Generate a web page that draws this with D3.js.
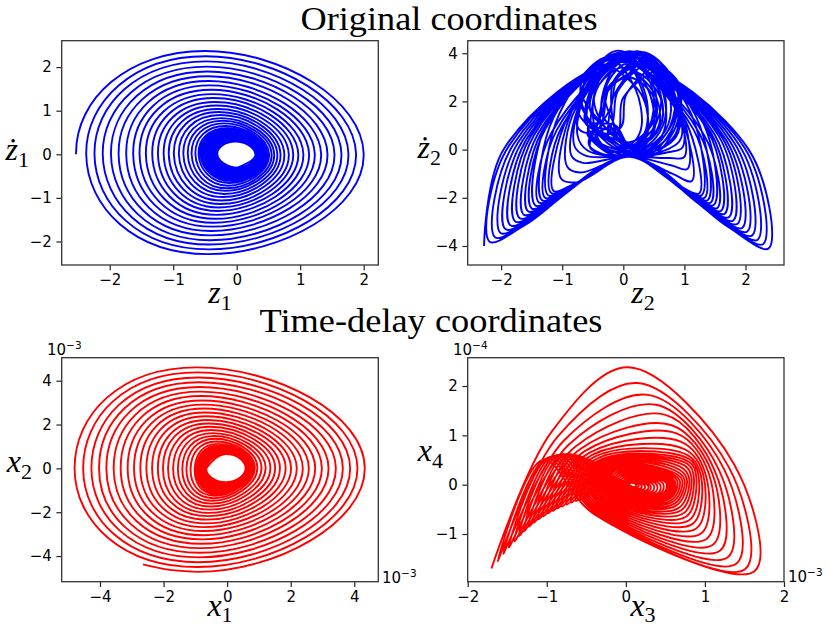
<!DOCTYPE html>
<html><head><meta charset="utf-8">
<script src="https://cdn.jsdelivr.net/npm/d3@7"></script>
<style>body{margin:0;background:#fff}</style></head>
<body><svg id="c" width="830" height="629"></svg>
<script>
// ---------- Panel 1: z1 vs dz1 (spiral; per-turn crossings left, top, right, bottom) ----------
const p1Ghost = [-0.45, -2.40];
const p1L  = [-2.53,-2.37,-2.24,-2.11,-1.98,-1.86,-1.74,-1.63,-1.53,-1.43,-1.33,-1.24,-1.15,-1.07,-0.99,-0.91,-0.84,-0.77,-0.71,-0.65,-0.60,-0.57,-0.54,-0.52,-0.50,-0.48,-0.46,-0.44,-0.42,-0.41,-0.40,-0.39,-0.38,-0.37,-0.36,-0.35,-0.345,-0.34,-0.335,-0.33,-0.325,-0.32,-0.315,-0.31,-0.305];
const p1T  = [2.37,2.25,2.13,2.01,1.90,1.79,1.68,1.58,1.48,1.38,1.29,1.20,1.12,1.04,0.97,0.90,0.83,0.77,0.71,0.65,0.60,0.57,0.54,0.51,0.49,0.47,0.45,0.43,0.41,0.40,0.39,0.38,0.37,0.36,0.35,0.34,0.33,0.325,0.32,0.315,0.31,0.305,0.30,0.295,0.29];
const p1TX = [-0.50,-0.49,-0.48,-0.47,-0.46,-0.45,-0.44,-0.42,-0.40,-0.38,-0.36,-0.34,-0.32,-0.30,-0.28,-0.26,-0.24,-0.22,-0.20,-0.18,-0.16,-0.15,-0.14,-0.13,-0.12,-0.11,-0.10,-0.09,-0.08,-0.07,-0.06,-0.06,-0.05,-0.05,-0.04,-0.04,-0.04,-0.03,-0.03,-0.03,-0.03,-0.02,-0.02,-0.02,-0.02];
const p1R  = [2.00,1.88,1.76,1.65,1.54,1.43,1.33,1.23,1.14,1.05,0.97,0.89,0.82,0.75,0.69,0.64,0.59,0.55,0.51,0.48,0.45,0.43,0.41,0.40,0.39,0.38,0.37,0.36,0.35,0.345,0.34,0.335,0.33,0.325,0.32,0.315,0.31,0.31,0.305,0.305,0.30,0.30,0.30,0.295,0.295];
const p1B  = [-2.29,-2.18,-2.07,-1.97,-1.86,-1.76,-1.66,-1.57,-1.48,-1.39,-1.30,-1.22,-1.14,-1.06,-0.98,-0.91,-0.84,-0.78,-0.72,-0.66,-0.61,-0.58,-0.55,-0.52,-0.50,-0.48,-0.46,-0.44,-0.42,-0.41,-0.40,-0.39,-0.38,-0.37,-0.36,-0.35,-0.34,-0.335,-0.33,-0.325,-0.32,-0.315,-0.31,-0.305,-0.30];
const p1BX = [-0.45,-0.44,-0.43,-0.42,-0.41,-0.40,-0.38,-0.36,-0.34,-0.32,-0.30,-0.28,-0.26,-0.24,-0.22,-0.20,-0.18,-0.16,-0.14,-0.12,-0.10,-0.09,-0.08,-0.07,-0.06,-0.05,-0.04,-0.03,-0.02,-0.01,0,0,0.01,0.01,0.01,0.02,0.02,0.02,0.02,0.02,0.02,0.02,0.02,0.02,0.02];

// ---------- Panel 2: z2 vs dz2 (loops: left corner, upper-left, apex, upper-right, right corner, lower-right, bottom, lower-left) ----------
const p2LX  = [-2.28,-2.19,-2.10,-2.01,-1.93,-1.85,-1.77,-1.70,-1.63,-1.56,-1.50,-1.44,-1.38,-1.33,-1.28,-1.23,-1.18,-1.14,-1.02,-0.92,-0.85,-0.80,-0.75,-0.40,-0.75,-0.55,-0.50,-0.32,-0.74,-0.35,-0.48,-0.62,-0.60,-0.37,-0.54,
               -0.70,-0.10,-0.70,-0.05,-0.30,-0.25,-0.70,-0.20,-0.20,-0.60,-0.20,-0.35];
const p2LY  = [-4.00,-3.82,-3.64,-3.46,-3.30,-3.14,-2.98,-2.84,-2.70,-2.56,-2.44,-2.32,-2.20,-2.10,-2.00,-1.90,-1.80,-1.72,-1.20,-0.70,-0.25,0.15,0.60,1.20,1.60,1.00,1.90,1.40,0.90,1.50,2.00,1.10,1.30,1.70,1.60,
               2.20,0.70,2.40,0.90,2.10,0.60,1.90,1.00,2.30,1.20,1.80,1.50];
const p2ULX = [-1.95,-1.88,-1.80,-1.72,-1.65,-1.58,-1.52,-1.46,-1.39,-1.33,-1.28,-1.23,-1.18,-1.14,-1.09,-1.05,-1.01,-0.90,-0.85,-0.78,-0.72,-0.66,-0.58,-0.27,-0.61,-0.40,-0.39,-0.20,-0.60,-0.25,-0.34,-0.50,-0.44,-0.28,-0.41,
               -0.59,0.00,-0.60,0.05,-0.23,-0.14,-0.58,-0.09,-0.14,-0.49,-0.11,-0.26];
const p2ULY = [0.05,0.13,0.21,0.30,0.37,0.45,0.53,0.61,0.69,0.76,0.84,1.21,0.68,1.34,0.81,1.47,0.93,1.40,1.55,1.70,1.85,2.10,2.51,2.52,2.87,2.68,2.73,2.72,2.66,2.44,3.07,2.53,2.83,2.42,2.84,
               2.94,2.16,3.14,2.30,2.90,2.31,3.03,2.43,2.93,2.74,2.90,2.90];
const p2AX  = [0,0,0,0,0,0,0,0,0,0,0,-0.10,0.15,-0.15,0.20,-0.20,0.25,0.05,-0.15,0.25,-0.10,0.20,0.10,0.40,-0.20,0.30,0.00,0.50,-0.12,0.20,0.37,-0.12,0.23,0.08,0.17,
               -0.35,0.65,-0.20,0.55,0.05,0.40,-0.15,0.45,0.10,0.00,0.25,0.10];
const p2AY  = [3.65,3.64,3.63,3.63,3.63,3.64,3.65,3.67,3.69,3.71,3.74,3.77,3.80,3.83,3.86,3.89,3.92,3.95,3.97,3.99,4.01,4.03,4.08,3.60,3.90,4.05,3.40,3.80,4.10,3.20,3.95,3.70,4.08,3.00,3.85,
               3.55,3.35,3.75,3.45,3.55,3.70,3.95,3.60,3.45,4.00,3.80,4.05];
const p2URX = [2.05,1.98,1.90,1.82,1.75,1.68,1.62,1.56,1.49,1.43,1.38,1.33,1.28,1.24,1.19,1.15,1.11,1.00,0.90,0.95,0.85,0.88,0.78,0.77,0.51,0.80,0.49,0.80,0.56,0.55,0.78,0.50,0.80,0.44,0.65,
               0.29,0.80,0.20,0.85,0.33,0.74,0.38,0.79,0.34,0.39,0.61,0.46];
const p2URY = [0.01,0.09,0.17,0.26,0.33,0.41,0.49,0.57,0.65,0.72,0.80,0.57,1.24,0.70,1.37,0.83,1.49,1.30,1.50,1.60,1.75,1.95,2.47,2.43,2.78,3.04,2.41,2.50,2.98,2.44,2.67,2.94,2.83,2.42,2.84,
               2.31,2.83,2.51,2.98,2.27,2.94,2.62,3.02,2.48,3.06,2.63,2.90];
const p2RX  = [2.38,2.29,2.20,2.11,2.03,1.95,1.87,1.80,1.73,1.66,1.60,1.54,1.48,1.43,1.38,1.33,1.28,1.24,1.12,1.05,1.00,0.97,0.95,0.90,0.65,0.95,0.60,0.92,0.70,0.65,0.92,0.62,0.96,0.53,0.78,
               0.40,0.90,0.30,0.95,0.40,0.85,0.50,0.90,0.40,0.50,0.70,0.55];
const p2RY  = [-4.10,-3.92,-3.74,-3.56,-3.40,-3.24,-3.08,-2.94,-2.80,-2.66,-2.54,-2.42,-2.30,-2.20,-2.10,-2.00,-1.90,-1.82,-1.30,-0.80,-0.30,0.10,0.50,1.00,1.40,1.80,1.20,0.90,1.60,1.50,1.10,2.00,1.30,1.70,1.60,
               0.80,2.20,1.00,2.40,0.70,2.00,1.00,2.30,1.30,1.90,1.20,1.50];
const p2LRX = [1.68,1.62,1.56,1.49,1.44,1.38,1.32,1.28,1.23,1.18,1.14,1.09,1.05,1.02,0.98,0.95,0.91,0.85,0.80,0.78,0.76,0.75,0.74,0.74,0.48,0.76,0.46,0.77,0.52,0.53,0.75,0.47,0.77,0.42,0.62,
               0.26,0.78,0.18,0.83,0.31,0.71,0.35,0.76,0.33,0.36,0.59,0.44];
const p2LRY = [-3.15,-3.02,-2.88,-2.75,-2.63,-2.51,-2.39,-2.28,-2.18,-2.07,-1.98,-1.89,-1.80,-1.73,-1.65,-1.58,-1.50,-1.40,-1.00,-0.65,-0.35,-0.10,0.03,0.28,0.50,0.57,0.54,0.27,0.46,0.72,0.31,0.80,0.35,0.86,0.55,
               0.17,0.76,0.34,0.79,0.31,0.69,0.23,0.89,0.61,0.62,0.41,0.45];
const p2UX  = [0.10,0.10,0.10,0.10,0.10,0.10,0.10,0.10,0.10,0.10,0.10,0.10,0.10,0.10,0.10,0.10,0.10,0.10,0.10,0.10,0.10,0.10,0.10,0.25,-0.05,0.20,0.05,0.30,-0.02,0.15,0.22,0.00,0.18,0.08,0.12,
               -0.15,0.40,-0.20,0.45,0.05,0.30,-0.10,0.35,0.10,-0.05,0.25,0.10];
const p2UY  = [-0.30,-0.30,-0.30,-0.30,-0.30,-0.30,-0.30,-0.30,-0.30,-0.30,-0.30,-0.30,-0.30,-0.30,-0.30,-0.29,-0.29,-0.29,-0.29,-0.28,-0.28,-0.28,-0.28,-0.20,-0.10,-0.25,0.10,-0.15,-0.30,0.20,-0.22,0.00,-0.28,0.30,-0.15,
               -0.25,-0.20,-0.10,-0.28,0.05,-0.18,-0.28,-0.05,0.15,-0.24,-0.12,-0.25];
const p2LLX = [-1.58,-1.52,-1.46,-1.39,-1.34,-1.28,-1.22,-1.18,-1.13,-1.08,-1.04,-0.99,-0.95,-0.92,-0.88,-0.85,-0.81,-0.75,-0.70,-0.66,-0.62,-0.58,-0.54,-0.24,-0.58,-0.36,-0.36,-0.17,-0.56,-0.23,-0.31,-0.47,-0.41,-0.26,-0.38,
               -0.56,0.03,-0.58,0.08,-0.21,-0.11,-0.55,-0.06,-0.13,-0.46,-0.09,-0.24];
const p2LLY = [-3.08,-2.94,-2.81,-2.67,-2.55,-2.43,-2.31,-2.21,-2.10,-2.00,-1.91,-1.82,-1.73,-1.65,-1.58,-1.50,-1.43,-1.35,-0.95,-0.55,-0.25,-0.05,0.07,0.36,0.58,0.25,0.82,0.47,0.18,0.72,0.67,0.44,0.35,0.86,0.55,
               0.73,0.16,0.90,0.19,0.87,0.13,0.59,0.37,1.01,0.34,0.65,0.45];

// ---------- Panel 3: x1 vs x2 (spiral; per-turn crossings bottom, right, top, left) ----------
const p3Start = [-2.65, -4.38];
const p3StartMid = [-1.80, -4.63];
const p3Ghost = [-4.95, 0.0];
const p3B  = [-4.72,-4.50,-4.28,-4.06,-3.85,-3.64,-3.44,-3.24,-3.05,-2.86,-2.68,-2.51,-2.34,-2.18,-2.03,-1.88,-1.74,-1.61,-1.48,-1.36,-1.25,-1.17,-1.10,-1.04,-0.99,-0.95,-0.91,-0.88,-0.85,-0.83,-0.81,-0.79,-0.77,-0.75,-0.73,-0.72,-0.71,-0.70,-0.69,-0.68,-0.67,-0.66,-0.65,-0.64,-0.63];
const p3BX = [-0.95,-0.93,-0.91,-0.89,-0.87,-0.85,-0.82,-0.79,-0.76,-0.73,-0.70,-0.67,-0.64,-0.61,-0.58,-0.55,-0.52,-0.49,-0.46,-0.43,-0.40,-0.37,-0.34,-0.31,-0.28,-0.25,-0.22,-0.20,-0.18,-0.16,-0.14,-0.12,-0.11,-0.10,-0.09,-0.08,-0.07,-0.07,-0.06,-0.06,-0.05,-0.05,-0.05,-0.05,-0.05];
const p3R  = [4.33,4.10,3.87,3.64,3.42,3.19,2.98,2.77,2.57,2.38,2.19,2.01,1.84,1.66,1.51,1.36,1.21,1.08,0.95,0.87,0.81,0.77,0.74,0.72,0.70,0.69,0.68,0.67,0.66,0.655,0.65,0.645,0.64,0.635,0.63,0.625,0.62,0.615,0.61,0.605,0.60,0.595,0.59,0.585,0.58];
const p3T  = [4.61,4.38,4.15,3.93,3.71,3.50,3.30,3.10,2.91,2.73,2.55,2.38,2.21,2.05,1.90,1.75,1.61,1.48,1.35,1.23,1.12,1.04,0.98,0.93,0.89,0.86,0.83,0.80,0.78,0.76,0.74,0.73,0.72,0.71,0.70,0.69,0.68,0.675,0.67,0.665,0.66,0.655,0.65,0.65,0.65];
const p3TX = [-0.95,-0.93,-0.91,-0.89,-0.87,-0.85,-0.82,-0.79,-0.76,-0.73,-0.70,-0.66,-0.62,-0.58,-0.54,-0.50,-0.46,-0.42,-0.38,-0.34,-0.30,-0.27,-0.24,-0.21,-0.18,-0.16,-0.14,-0.12,-0.10,-0.09,-0.08,-0.07,-0.06,-0.05,-0.05,-0.04,-0.04,-0.04,-0.03,-0.03,-0.03,-0.03,-0.03,-0.03,-0.03];
const p3L  = [-4.80,-4.53,-4.27,-4.03,-3.80,-3.57,-3.35,-3.13,-2.93,-2.73,-2.54,-2.36,-2.18,-2.02,-1.86,-1.70,-1.55,-1.41,-1.28,-1.15,-1.02,-0.96,-0.91,-0.87,-0.84,-0.81,-0.79,-0.77,-0.75,-0.74,-0.73,-0.72,-0.71,-0.70,-0.695,-0.69,-0.685,-0.68,-0.675,-0.67,-0.67,-0.665,-0.665,-0.66,-0.66];

// ---------- Panel 4: x3 vs x4 (loops: left corner, left shoulder, apex, right shoulder, right corner, middle, left hump) ----------
const p4LCX = [-1.70,-1.62,-1.55,-1.48,-1.41,-1.35,-1.29,-1.23,-1.17,-1.11,-1.05,-0.99,-0.93,-0.87,-0.81,-0.75,-0.69,-0.63,-0.57,-0.52,-0.47,-0.42,-0.38,-0.34,-0.31,-0.29,-0.27,-0.26,-0.25,-0.25,-0.22,-0.19,-0.16,-0.13,-0.10,-0.08,-0.05,-0.02,0.01,0.04];
const p4LCY = [-1.70,-1.55,-1.40,-1.27,-1.15,-1.04,-0.94,-0.85,-0.77,-0.70,-0.64,-0.58,-0.53,-0.48,-0.44,-0.40,-0.36,-0.33,-0.30,-0.27,-0.24,-0.22,-0.20,-0.18,-0.17,-0.16,-0.15,-0.15,-0.14,-0.14,-0.13,-0.12,-0.11,-0.10,-0.09,-0.08,-0.06,-0.05,-0.04,-0.03];
const p4SLX = [-0.94,-0.86,-0.78,-0.71,-0.64,-0.58,-0.52,-0.47,-0.42,-0.38,-0.34,-0.31,-0.28,-0.26,-0.24,-0.22,-0.21,-0.20,-0.19,-0.18,-0.17,-0.16,-0.16,-0.15,-0.15,-0.15,-0.14,-0.14,-0.14,-0.14,-0.12,-0.10,-0.08,-0.06,-0.04,-0.02,0.00,0.02,0.04,0.05];
const p4SLY = [1.07,0.98,0.90,0.83,0.77,0.72,0.68,0.64,0.61,0.58,0.55,0.52,0.50,0.48,0.46,0.44,0.42,0.40,0.38,0.36,0.35,0.34,0.33,0.32,0.31,0.30,0.30,0.29,0.29,0.28,0.25,0.22,0.19,0.16,0.13,0.10,0.08,0.06,0.04,0.03];
const p4AX  = [0.03,0.15,0.28,0.38,0.49,0.57,0.64,0.70,0.74,0.78,0.80,0.80,0.78,0.74,0.68,0.62,0.56,0.50,0.45,0.41,0.38,0.35,0.33,0.31,0.30,0.29,0.28,0.27,0.27,0.26,0.24,0.22,0.20,0.18,0.16,0.14,0.13,0.12,0.11,0.10];
const p4AY  = [2.38,2.06,1.82,1.62,1.42,1.21,1.04,0.87,0.72,0.60,0.52,0.46,0.42,0.39,0.37,0.35,0.33,0.31,0.30,0.28,0.27,0.26,0.25,0.24,0.23,0.22,0.21,0.21,0.20,0.20,0.19,0.17,0.15,0.13,0.11,0.09,0.07,0.05,0.04,0.03];
const p4SRX = [1.37,1.30,1.24,1.18,1.13,1.09,1.05,1.01,0.98,0.95,0.92,0.89,0.86,0.83,0.80,0.77,0.74,0.71,0.68,0.65,0.62,0.60,0.58,0.56,0.55,0.54,0.53,0.52,0.52,0.51,0.47,0.43,0.39,0.35,0.31,0.28,0.24,0.20,0.16,0.13];
const p4SRY = [0.41,0.36,0.32,0.29,0.26,0.24,0.22,0.20,0.19,0.18,0.17,0.16,0.15,0.14,0.13,0.12,0.11,0.10,0.09,0.08,0.07,0.06,0.05,0.05,0.04,0.04,0.03,0.03,0.03,0.03,0.02,0.01,0.00,-0.01,-0.02,-0.02,-0.02,-0.02,-0.01,-0.01];
const p4RCX = [1.63,1.51,1.40,1.29,1.19,1.10,1.02,0.95,0.89,0.84,0.80,0.76,0.73,0.70,0.67,0.64,0.62,0.60,0.58,0.56,0.55,0.54,0.53,0.52,0.51,0.50,0.50,0.49,0.49,0.48,0.45,0.42,0.38,0.34,0.30,0.27,0.23,0.19,0.15,0.12];
const p4RCY = [-1.75,-1.71,-1.60,-1.47,-1.34,-1.22,-1.10,-0.99,-0.89,-0.80,-0.72,-0.65,-0.58,-0.52,-0.47,-0.42,-0.38,-0.34,-0.31,-0.28,-0.26,-0.24,-0.22,-0.21,-0.20,-0.19,-0.18,-0.18,-0.17,-0.17,-0.16,-0.15,-0.14,-0.13,-0.12,-0.11,-0.09,-0.07,-0.05,-0.04];
const p4MX  = [-0.40,-0.38,-0.36,-0.34,-0.32,-0.30,-0.28,-0.26,-0.24,-0.22,-0.20,-0.18,-0.16,-0.14,-0.12,-0.10,-0.08,-0.06,-0.05,-0.04,-0.03,-0.02,-0.01,0,0,0.01,0.01,0.02,0.02,0.02,0.03,0.04,0.05,0.06,0.07,0.08,0.08,0.08,0.08,0.08];
const p4MY  = [-0.60,-0.58,-0.56,-0.54,-0.52,-0.50,-0.48,-0.46,-0.44,-0.42,-0.40,-0.38,-0.36,-0.35,-0.34,-0.33,-0.32,-0.31,-0.30,-0.29,-0.28,-0.27,-0.26,-0.25,-0.25,-0.24,-0.24,-0.23,-0.23,-0.23,-0.21,-0.19,-0.17,-0.15,-0.13,-0.11,-0.09,-0.07,-0.05,-0.04];
const p4HX  = [-1.05,-1.00,-0.96,-0.92,-0.88,-0.84,-0.80,-0.76,-0.72,-0.68,-0.64,-0.60,-0.56,-0.53,-0.50,-0.47,-0.44,-0.42,-0.40,-0.38,-0.36,-0.35,-0.34,-0.33,-0.32,-0.31,-0.31,-0.30,-0.30,-0.30,-0.27,-0.24,-0.21,-0.18,-0.15,-0.12,-0.09,-0.05,-0.02,0.01];
const p4HY  = [0.50,0.53,0.56,0.58,0.60,0.61,0.62,0.62,0.62,0.61,0.60,0.58,0.56,0.54,0.52,0.50,0.48,0.46,0.44,0.42,0.40,0.38,0.36,0.34,0.32,0.30,0.29,0.28,0.27,0.26,0.24,0.22,0.20,0.18,0.16,0.14,0.12,0.09,0.06,0.04];

// ---------- Axis limits & ticks ----------
const p1Xlim = [-2.756, 2.230], p1Ylim = [-2.539, 2.605];
const p2Xlim = [-2.547, 2.630], p2Ylim = [-4.79, 4.52];
const p3Xlim = [-5.205, 4.755], p3Ylim = [-5.17, 5.05];
const p4Xlim = [-2, 2],         p4Ylim = [-1.967, 2.574];
const p1Xt = [-2,-1,0,1,2], p1Yt = [-2,-1,0,1,2];
const p2Xt = [-2,-1,0,1,2], p2Yt = [-4,-2,0,2,4];
const p3Xt = [-4,-2,0,2,4], p3Yt = [-4,-2,0,2,4];
const p4Xt = [-2,-1,0,1,2], p4Yt = [-1,0,1,2];

const svg = d3.select("#c");
const fmt = v => (v < 0 ? "\u2212" + Math.abs(v) : String(v));
let clipId = 0;

function axes(box, xlim, ylim, xt, yt) {
  const x = d3.scaleLinear().domain(xlim).range([box.l, box.r]);
  const y = d3.scaleLinear().domain(ylim).range([box.b, box.t]);
  const id = "clip" + (clipId++);
  svg.append("clipPath").attr("id", id).append("rect")
    .attr("x", box.l).attr("y", box.t).attr("width", box.r - box.l).attr("height", box.b - box.t);
  const plot = svg.append("g").attr("clip-path", `url(#${id})`);
  const gx = svg.append("g").attr("transform", `translate(0,${box.b})`)
    .call(d3.axisBottom(x).tickValues(xt).tickSize(5.3).tickPadding(4.5).tickFormat(fmt));
  const gy = svg.append("g").attr("transform", `translate(${box.l},0)`)
    .call(d3.axisLeft(y).tickValues(yt).tickSize(5.3).tickPadding(4.5).tickFormat(fmt));
  [gx, gy].forEach(g => {
    g.select(".domain").remove();
    g.attr("font-family", "DejaVu Sans").attr("font-size", 15);
    g.selectAll("line").attr("stroke", "#222").attr("stroke-width", 1.2);
    g.selectAll("text").attr("fill", "#000");
  });
  svg.append("rect").attr("x", box.l).attr("y", box.t)
    .attr("width", box.r - box.l).attr("height", box.b - box.t)
    .attr("fill", "none").attr("stroke", "#333").attr("stroke-width", 1.3);
  return {x, y, plot};
}

// remove the first (lead-in) Bezier segment of a d3 path string
function dropFirstSegment(d) {
  const parts = d.split("C");
  const seg = parts[1].split(",");
  return "M" + seg[4] + "," + seg[5] + "C" + parts.slice(2).join("C");
}

function drawPath(ax, pts, color, curve, dropFirst) {
  const line = d3.line().x(d => ax.x(d[0])).y(d => ax.y(d[1])).curve(curve);
  let d = line(pts);
  if (dropFirst) d = dropFirstSegment(d);
  ax.plot.append("path").attr("d", d).attr("fill", "none")
    .attr("stroke", color).attr("stroke-width", 1.9).attr("stroke-linejoin", "round");
}

function mlabel(x, y, base, sub, anchor, subDy) {
  const t = svg.append("text").attr("x", x).attr("y", y)
    .attr("font-family", "Liberation Serif").attr("fill", "#000").attr("text-anchor", anchor || "middle");
  t.append("tspan").attr("font-style", "italic").attr("font-size", 32).text(base);
  t.append("tspan").attr("font-size", 22).attr("dy", subDy || 7).text(sub);
}
function offsetText(x, y, exp) {
  const t = svg.append("text").attr("x", x).attr("y", y)
    .attr("font-family", "DejaVu Sans").attr("fill", "#000").attr("font-size", 15);
  t.append("tspan").text("10");
  t.append("tspan").attr("font-size", 10.5).attr("dy", -6).text("\u2212" + exp);
}

const box1 = {l: 61.7, r: 378.3, t: 40.7, b: 265};
const box2 = {l: 467.7, r: 784, t: 40.7, b: 265};
const box3 = {l: 61.7, r: 378.3, t: 357.7, b: 581.7};
const box4 = {l: 467.7, r: 784, t: 357.7, b: 581.7};

// Panel 1
const a1 = axes(box1, p1Xlim, p1Ylim, p1Xt, p1Yt);
const pts1 = [p1Ghost].concat(d3.range(p1L.length).flatMap(i => [[p1L[i], 0], [p1TX[i], p1T[i]], [p1R[i], 0], [p1BX[i], p1B[i]]]));
drawPath(a1, pts1, "#0000ff", d3.curveCardinal.tension(-0.6), true);

// Panel 2
const a2 = axes(box2, p2Xlim, p2Ylim, p2Xt, p2Yt);
const pts2 = d3.range(p2LX.length).flatMap(i => [
  [p2LX[i], p2LY[i]], [p2ULX[i], p2ULY[i]], [p2AX[i], p2AY[i]], [p2URX[i], p2URY[i]],
  [p2RX[i], p2RY[i]], [p2LRX[i], p2LRY[i]], [p2UX[i], p2UY[i]], [p2LLX[i], p2LLY[i]]]);
drawPath(a2, pts2, "#0000ff", d3.curveCatmullRom.alpha(0.5), false);

// Panel 3
const a3 = axes(box3, p3Xlim, p3Ylim, p3Xt, p3Yt);
const pts3 = [p3Ghost].concat(d3.range(p3B.length).flatMap(i => [[p3BX[i], p3B[i]], [p3R[i], 0], [p3TX[i], p3T[i]], [p3L[i], 0]]));
drawPath(a3, pts3, "#ff0000", d3.curveCardinal.tension(-0.6), true);
drawPath(a3, [p3Start, p3StartMid, [p3BX[0], p3B[0]]], "#ff0000", d3.curveMonotoneX, false);

// Panel 4
const a4 = axes(box4, p4Xlim, p4Ylim, p4Xt, p4Yt);
const pts4 = d3.range(p4LCX.length).flatMap(i => [[p4LCX[i], p4LCY[i]], [p4SLX[i], p4SLY[i]], [p4AX[i], p4AY[i]],
  [p4SRX[i], p4SRY[i]], [p4RCX[i], p4RCY[i]], [p4MX[i], p4MY[i]], [p4HX[i], p4HY[i]]]);
drawPath(a4, pts4, "#ff0000", d3.curveCatmullRom.alpha(0.5), false);

// Titles
svg.append("text").attr("x", 449).attr("y", 30).attr("text-anchor", "middle")
  .attr("font-family", "Liberation Serif").attr("font-size", 33).attr("fill", "#000")
  .attr("textLength", 297).attr("lengthAdjust", "spacingAndGlyphs").text("Original coordinates");
svg.append("text").attr("x", 431).attr("y", 332).attr("text-anchor", "middle")
  .attr("font-family", "Liberation Serif").attr("font-size", 33).attr("fill", "#000")
  .attr("textLength", 343).attr("lengthAdjust", "spacingAndGlyphs").text("Time-delay coordinates");

// Axis labels
mlabel(220, 303, "z", "1");
mlabel(643, 303, "z", "2");
mlabel(220, 616, "x", "1", "middle", 6);
mlabel(643, 616, "x", "3", "middle", 6);
mlabel(29, 160, "\u017C", "1", "end");
mlabel(441, 158, "\u017C", "2", "end");
mlabel(32, 472, "x", "2", "end");
mlabel(443, 461, "x", "4", "end");

// Offset texts
offsetText(47, 355, "3");
offsetText(382, 583, "3");
offsetText(453, 355, "4");
offsetText(788, 582, "3");
</script></body></html>
